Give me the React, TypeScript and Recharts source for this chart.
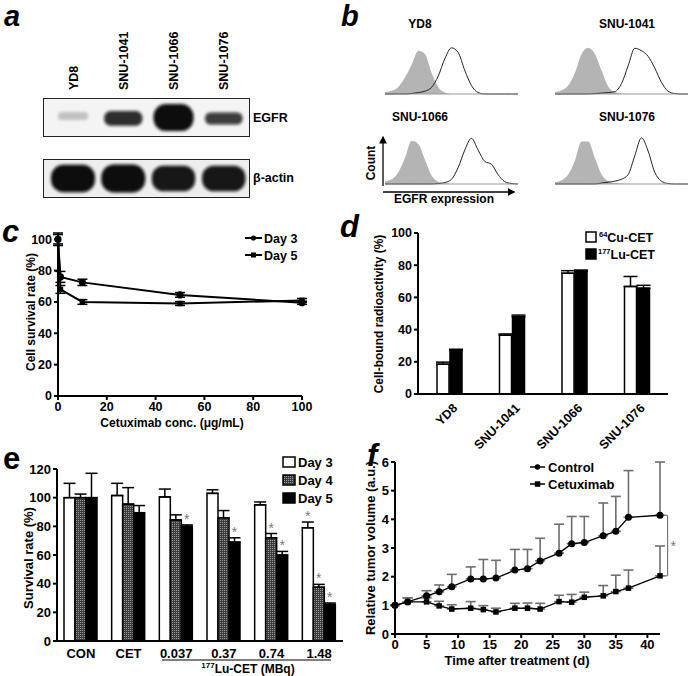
import React from 'react';
import {
  BarChart,
  Bar,
  LineChart,
  Line,
  ComposedChart,
  Area,
  XAxis,
  YAxis,
  ErrorBar,
  Legend,
  ReferenceLine,
} from 'recharts';

const FONT = 'Arial, "Liberation Sans", Helvetica, sans-serif';

// a: western blot, band extent (fraction of strip height) and darkness per lane
const lanes = ['YD8', 'SNU-1041', 'SNU-1066', 'SNU-1076'];
const egfrBand = [[0.42, 0.63], [0.27, 0.66], [0.13, 0.84], [0.3, 0.62]];
const egfrDensity = [0.12, 0.85, 1, 0.78];
const actinBand = [[0.15, 0.85], [0.14, 0.86], [0.17, 0.83], [0.17, 0.83]];
const actinDensity = [1, 1, 0.95, 0.95];

// b: flow cytometry histograms (position along log axis in %, relative count)
const fluorPos = [0, 5, 10, 15, 20, 25, 30, 35, 40, 45, 50, 55, 60, 65, 70, 75, 80, 85, 90, 95, 100];
const isoYD8 = [0.04, 0.07, 0.15, 0.35, 0.62, 0.92, 0.85, 0.45, 0.15, 0.03, 0, 0, 0, 0, 0, 0, 0, 0, 0, 0, 0];
const egfrYD8 = [0, 0, 0, 0, 0.01, 0.03, 0.06, 0.14, 0.38, 0.75, 0.98, 0.88, 0.5, 0.18, 0.03, 0, 0, 0, 0, 0, 0];
const iso1041 = [0.04, 0.08, 0.18, 0.45, 0.85, 0.98, 0.85, 0.5, 0.16, 0.04, 0.01, 0, 0, 0, 0, 0, 0, 0, 0, 0, 0];
const egfr1041 = [0, 0, 0, 0, 0, 0, 0.01, 0.02, 0.03, 0.05, 0.22, 0.6, 0.97, 0.92, 0.8, 0.55, 0.25, 0.06, 0.01, 0, 0];
const iso1066 = [0.06, 0.1, 0.25, 0.55, 0.92, 0.85, 0.52, 0.18, 0.05, 0.01, 0, 0, 0, 0, 0, 0, 0, 0, 0, 0, 0];
const egfr1066 = [0, 0, 0, 0, 0, 0, 0, 0, 0.01, 0.03, 0.1, 0.35, 0.72, 0.97, 0.72, 0.48, 0.42, 0.2, 0.05, 0.01, 0];
const iso1076 = [0.04, 0.08, 0.2, 0.5, 0.9, 0.9, 0.55, 0.2, 0.06, 0.02, 0.01, 0, 0, 0, 0, 0, 0, 0, 0, 0, 0];
const egfr1076 = [0, 0, 0, 0, 0, 0, 0, 0.02, 0.04, 0.06, 0.1, 0.2, 0.6, 0.98, 0.7, 0.25, 0.06, 0.01, 0, 0, 0];
const countTicks = [0, 0.125, 0.25, 0.375, 0.5, 0.625, 0.75, 0.875, 1];

// c: cell survival vs cetuximab
const cetConc = [0, 1, 10, 50, 100];
const day3Survival = [100, 76, 72.5, 64.5, 59.5];
const day3Err = [4, 3.5, 2, 1.5, 1];
const day5Survival = [100, 68, 60, 59, 61];
const day5Err = [3, 2.5, 1.5, 1.2, 1.2];
const pctTicks = [0, 20, 40, 60, 80, 100];

// d: cell-bound radioactivity
const cellLines = ['YD8', 'SNU-1041', 'SNU-1066', 'SNU-1076'];
const cuBound = [18.5, 36.5, 75, 66.8];
const cuErr = [1.3, 0.8, 1.6, 6.2];
const luBound = [27.3, 48, 76.4, 65.7];
const luErr = [0.5, 1, 0.6, 1.8];

// e: survival after 177Lu-CET
const treatments = ['CON', 'CET', '0.037', '0.37', '0.74', '1.48'];
const day3Rate = [100, 101.5, 100.5, 103, 95, 79];
const day3RateErr = [10, 8.5, 5.5, 2.5, 2, 4];
const day4Rate = [100, 95.5, 84.5, 86, 72, 37.5];
const day4RateErr = [2.5, 11.5, 3.5, 5, 3, 2];
const day5Rate = [100, 89.5, 80, 69, 60, 25.5];
const day5RateErr = [17, 5, 1, 3, 2.5, 1];
const day3Sig = [false, false, false, false, false, true];
const day4Sig = [false, false, false, false, true, true];
const day5Sig = [false, false, true, true, true, true];
const rateTicks = [0, 20, 40, 60, 80, 100, 120];

// f: relative tumor volume
const days = [0, 2, 5, 7, 9, 12, 14, 16, 19, 21, 23, 26, 28, 30, 33, 35, 37, 42];
const controlVol = [1, 1.12, 1.33, 1.47, 1.65, 1.92, 1.92, 1.95, 2.23, 2.28, 2.55, 2.82, 3.15, 3.19, 3.43, 3.58, 4.07, 4.14];
const controlSd = [0, 0.14, 0.18, 0.24, 0.43, 0.42, 0.68, 0.62, 0.72, 0.67, 0.79, 1.01, 0.95, 0.91, 1.14, 1.22, 1.63, 1.86];
const cetuxVol = [1, 1.12, 1.12, 0.98, 0.87, 0.9, 0.85, 0.77, 0.9, 0.9, 0.87, 1.13, 1.11, 1.28, 1.33, 1.48, 1.6, 2.03];
const cetuxSd = [0, 0.14, 0.14, 0.16, 0.15, 0.23, 0.14, 0.13, 0.17, 0.18, 0.2, 0.22, 0.27, 0.18, 0.36, 0.57, 0.63, 1.04];
const dayTicks = [0, 5, 10, 15, 20, 25, 30, 35, 40];
const volTicks = [0, 1, 2, 3, 4, 5, 6];

const tickStyle = { fill: '#000', fontSize: 12.5, fontWeight: 700, fontFamily: FONT };
const axisLine = { stroke: '#000', strokeWidth: 2 };
const tickLine = { stroke: '#000', strokeWidth: 2 };

const T = (props: any) => <text fontFamily={FONT} fontWeight={700} fill="#000" {...props} />;

const squareDot = (size: number) => (p: any) => {
  const { cx, cy, index } = p;
  if (cx == null || cy == null) return <g key={`s${index}`} />;
  return <rect key={`s${index}`} x={cx - size / 2} y={cy - size / 2} width={size} height={size} fill="#000" />;
};

const Pos = ({ left, top, children }: any) => (
  <div style={{ position: 'absolute', left, top }}>{children}</div>
);

// ---------- a ----------
const BandShape = (p: any) => {
  const { x, y, width, height, payload, filterId } = p;
  if (!height) return null;
  const d = payload.density;
  const w = width * (0.72 + 0.28 * d);
  const cx = x + width / 2;
  return (
    <rect
      x={cx - w / 2}
      y={y}
      width={w}
      height={height}
      rx={Math.min(w, height) / 2.2}
      fill="#0c0c0c"
      fillOpacity={0.1 + 0.9 * d}
      filter={`url(#${filterId})`}
    />
  );
};

const LaneTick = (p: any) => {
  const { x, y, payload } = p;
  return (
    <text
      x={x}
      y={y}
      dy={4.5}
      transform={`rotate(-90 ${x} ${y})`}
      textAnchor="start"
      fontFamily={FONT}
      fontWeight={700}
      fontSize={12.5}
      fill="#000"
    >
      {payload.value}
    </text>
  );
};

const BlotPanel = () => {
  const egfrRows = lanes.map((lane, i) => ({ lane, band: egfrBand[i], density: egfrDensity[i] }));
  const actinRows = lanes.map((lane, i) => ({ lane, band: actinBand[i], density: actinDensity[i] }));
  return (
    <>
      <div style={{ position: 'absolute', left: 43, top: 98, width: 207, height: 39, boxSizing: 'border-box', border: '1px solid #222', background: '#f4f4f4' }} />
      <div style={{ position: 'absolute', left: 43, top: 159, width: 207, height: 39, boxSizing: 'border-box', border: '1px solid #222', background: '#eeeeee' }} />
      <Pos left={43} top={25}>
        <BarChart width={207} height={112} data={egfrRows} margin={{ top: 0, right: 1, bottom: 1, left: 5 }} barCategoryGap="10%">
          <defs>
            <filter id="blurEgfr" x="-30%" y="-60%" width="160%" height="220%">
              <feGaussianBlur stdDeviation="1.8" />
            </filter>
          </defs>
          <XAxis dataKey="lane" orientation="top" height={73} axisLine={false} tickLine={false} interval={0} tick={<LaneTick />} />
          <YAxis hide domain={[0, 1]} />
          <Bar dataKey="band" isAnimationActive={false} shape={(p: any) => <BandShape {...p} filterId="blurEgfr" />} />
        </BarChart>
      </Pos>
      <Pos left={43} top={159}>
        <BarChart width={207} height={39} data={actinRows} margin={{ top: 0, right: 1, bottom: 0, left: 5 }} barCategoryGap="6%">
          <defs>
            <filter id="blurActin" x="-30%" y="-60%" width="160%" height="220%">
              <feGaussianBlur stdDeviation="1.8" />
            </filter>
          </defs>
          <XAxis dataKey="lane" hide />
          <YAxis hide domain={[0, 1]} />
          <Bar dataKey="band" isAnimationActive={false} shape={(p: any) => <BandShape {...p} filterId="blurActin" />} />
        </BarChart>
      </Pos>
    </>
  );
};

// ---------- b ----------
const flowPanels = [
  { title: 'YD8', iso: isoYD8, egfr: egfrYD8, left: 382, top: 43 },
  { title: 'SNU-1041', iso: iso1041, egfr: egfr1041, left: 552, top: 43 },
  { title: 'SNU-1066', iso: iso1066, egfr: egfr1066, left: 382, top: 133 },
  { title: 'SNU-1076', iso: iso1076, egfr: egfr1076, left: 552, top: 133 },
];

const FlowPanel = () => (
  <>
    {flowPanels.map((f) => {
      const rows = fluorPos.map((pos, i) => ({ pos, iso: f.iso[i], egfr: f.egfr[i] }));
      return (
        <Pos key={f.title} left={f.left} top={f.top}>
          <ComposedChart width={138} height={55} data={rows} margin={{ top: 2, right: 2, bottom: 0, left: 3 }}>
            <XAxis
              dataKey="pos"
              type="number"
              domain={[0, 100]}
              ticks={[0, 25, 50, 75, 100]}
              height={4}
              tick={false}
              tickSize={2}
              axisLine={{ stroke: '#999' }}
              tickLine={{ stroke: '#999' }}
            />
            <YAxis
              domain={[0, 1.04]}
              ticks={countTicks}
              width={0}
              tick={false}
              tickSize={2}
              axisLine={{ stroke: '#999' }}
              tickLine={{ stroke: '#999' }}
            />
            <Area dataKey="iso" type="monotone" fill="#b4b4b4" fillOpacity={1} stroke="none" isAnimationActive={false} />
            <Line dataKey="egfr" type="monotone" stroke="#222" strokeWidth={1} dot={false} isAnimationActive={false} />
          </ComposedChart>
        </Pos>
      );
    })}
  </>
);

// ---------- c ----------
const DoseLegend = () => (
  <svg width={70} height={36}>
    <line x1={2} y1={8} x2={19} y2={8} stroke="#000" strokeWidth={2} />
    <circle cx={10.5} cy={8} r={2.6} fill="#000" />
    <T x={21} y={13} fontSize={12.5}>Day 3</T>
    <line x1={2} y1={25} x2={19} y2={25} stroke="#000" strokeWidth={2} />
    <rect x={8} y={22.5} width={5} height={5} fill="#000" />
    <T x={21} y={30} fontSize={12.5}>Day 5</T>
  </svg>
);

const DoseChart = () => {
  const rows = cetConc.map((conc, i) => ({
    conc,
    d3: day3Survival[i],
    e3: day3Err[i],
    d5: day5Survival[i],
    e5: day5Err[i],
  }));
  return (
    <Pos left={0} top={200}>
      <LineChart width={330} height={230} data={rows} margin={{ top: 33, right: 28, bottom: 4, left: 13 }}>
        <XAxis dataKey="conc" type="number" domain={[0, 100]} ticks={pctTicks} height={30} tick={tickStyle} axisLine={axisLine} tickLine={tickLine} tickSize={4} />
        <YAxis type="number" domain={[0, 100]} ticks={pctTicks} width={45} tick={tickStyle} axisLine={axisLine} tickLine={tickLine} tickSize={4} />
        <Line dataKey="d3" stroke="#000" strokeWidth={2} dot={{ r: 2.6, fill: '#000', stroke: '#000' }} isAnimationActive={false}>
          <ErrorBar dataKey="e3" width={5} stroke="#000" strokeWidth={1.5} />
        </Line>
        <Line dataKey="d5" stroke="#000" strokeWidth={2} dot={squareDot(5.5)} isAnimationActive={false}>
          <ErrorBar dataKey="e5" width={5} stroke="#000" strokeWidth={1.5} />
        </Line>
        <Legend
          layout="vertical"
          align="center"
          verticalAlign="middle"
          wrapperStyle={{ left: 243, top: 30, width: 70, height: 36 }}
          content={() => <DoseLegend />}
        />
      </LineChart>
    </Pos>
  );
};

// ---------- d ----------
const CellLineTick = (p: any) => {
  const { x, y, payload } = p;
  const ax = x + 6;
  const ay = y + 4;
  return (
    <text
      x={ax}
      y={ay}
      dy={4}
      transform={`rotate(-45 ${ax} ${ay})`}
      textAnchor="end"
      fontFamily={FONT}
      fontWeight={700}
      fontSize={12.5}
      fill="#000"
    >
      {payload.value}
    </text>
  );
};

const BindingLegend = () => (
  <svg width={105} height={36}>
    <rect x={3} y={4} width={10} height={10} fill="#fff" stroke="#000" strokeWidth={1.5} />
    <T x={16} y={14} fontSize={12.5}>
      <tspan fontSize={7.5} dy={-5}>64</tspan>
      <tspan dy={5}>Cu-CET</tspan>
    </T>
    <rect x={3} y={21} width={10} height={10} fill="#000" stroke="#000" strokeWidth={1.5} />
    <T x={15} y={31} fontSize={12.5}>
      <tspan fontSize={7.5} dy={-5}>177</tspan>
      <tspan dy={5}>Lu-CET</tspan>
    </T>
  </svg>
);

const BindingChart = () => {
  const rows = cellLines.map((line, i) => ({
    line,
    cu: cuBound[i],
    cuE: [0, cuErr[i]],
    lu: luBound[i],
    luE: [0, luErr[i]],
  }));
  return (
    <Pos left={340} top={200}>
      <BarChart width={351} height={262} data={rows} margin={{ top: 33, right: 23, bottom: 6, left: 38 }} barSize={12} barGap={1}>
        <XAxis dataKey="line" height={62} interval={0} tick={<CellLineTick />} axisLine={axisLine} tickLine={false} />
        <YAxis type="number" domain={[0, 100]} ticks={pctTicks} width={40} tick={tickStyle} axisLine={axisLine} tickLine={tickLine} tickSize={4} />
        <Bar dataKey="cu" fill="#fff" stroke="#000" strokeWidth={1.5} isAnimationActive={false}>
          <ErrorBar dataKey="cuE" width={7} stroke="#000" strokeWidth={1.5} />
        </Bar>
        <Bar dataKey="lu" fill="#000" stroke="#000" strokeWidth={1.5} isAnimationActive={false}>
          <ErrorBar dataKey="luE" width={7} stroke="#000" strokeWidth={1.5} />
        </Bar>
        <Legend
          layout="vertical"
          align="center"
          verticalAlign="middle"
          wrapperStyle={{ left: 243, top: 28, width: 105, height: 36 }}
          content={() => <BindingLegend />}
        />
      </BarChart>
    </Pos>
  );
};

// ---------- e ----------
// bar with an optional significance star above its error cap
const SurvivalBar = (p: any) => {
  const { x, y, width, height, fill, payload, valKey, errKey, sigKey } = p;
  if (x == null || !height) return null;
  const val = payload[valKey];
  const err = payload[errKey][1];
  const capY = y - (err * height) / val;
  return (
    <g>
      <rect x={x} y={y} width={width} height={height} fill={fill} stroke="#000" strokeWidth={1.5} />
      {payload[sigKey] ? (
        <text x={x + width / 2} y={capY - 1} textAnchor="middle" fill="#7a7a7a" fontSize={14} fontFamily={FONT}>
          *
        </text>
      ) : null}
    </g>
  );
};

const SurvivalLegend = () => (
  <svg width={75} height={55}>
    <rect x={3} y={5} width={12} height={10} fill="#fff" stroke="#000" strokeWidth={1.5} />
    <T x={18} y={15} fontSize={13}>Day 3</T>
    <rect x={3} y={23} width={12} height={10} fill="url(#hatchDay4)" stroke="#000" strokeWidth={1.5} />
    <T x={18} y={33} fontSize={13}>Day 4</T>
    <rect x={3} y={41} width={12} height={10} fill="#000" stroke="#000" strokeWidth={1.5} />
    <T x={18} y={51} fontSize={13}>Day 5</T>
  </svg>
);

const SurvivalChart = () => {
  const rows = treatments.map((t, i) => ({
    t,
    d3: day3Rate[i],
    e3: [0, day3RateErr[i]],
    s3: day3Sig[i],
    d4: day4Rate[i],
    e4: [0, day4RateErr[i]],
    s4: day4Sig[i],
    d5: day5Rate[i],
    e5: [0, day5RateErr[i]],
    s5: day5Sig[i],
  }));
  const xTick = { ...tickStyle, fontSize: 13 };
  return (
    <Pos left={0} top={440}>
      <BarChart width={355} height={236} data={rows} margin={{ top: 29, right: 12, bottom: 13, left: 17 }} barSize={11} barGap={0}>
        <defs>
          <pattern id="hatchDay4" width="2" height="2" patternUnits="userSpaceOnUse">
            <rect width="2" height="2" fill="#3c3c3c" />
            <rect width="1" height="1" fill="#9a9a9a" />
          </pattern>
        </defs>
        <XAxis dataKey="t" height={22} interval={0} tick={xTick} axisLine={axisLine} tickLine={false} tickMargin={2} />
        <YAxis type="number" domain={[0, 120]} ticks={rateTicks} width={40} tick={xTick} axisLine={axisLine} tickLine={tickLine} tickSize={4} />
        <Bar dataKey="d3" fill="#fff" isAnimationActive={false} shape={(p: any) => <SurvivalBar {...p} valKey="d3" errKey="e3" sigKey="s3" />}>
          <ErrorBar dataKey="e3" width={6} stroke="#000" strokeWidth={1.5} />
        </Bar>
        <Bar dataKey="d4" fill="url(#hatchDay4)" isAnimationActive={false} shape={(p: any) => <SurvivalBar {...p} valKey="d4" errKey="e4" sigKey="s4" />}>
          <ErrorBar dataKey="e4" width={6} stroke="#000" strokeWidth={1.5} />
        </Bar>
        <Bar dataKey="d5" fill="#000" isAnimationActive={false} shape={(p: any) => <SurvivalBar {...p} valKey="d5" errKey="e5" sigKey="s5" />}>
          <ErrorBar dataKey="e5" width={6} stroke="#000" strokeWidth={1.5} />
        </Bar>
        <Legend
          layout="vertical"
          align="center"
          verticalAlign="middle"
          wrapperStyle={{ left: 280, top: 12, width: 75, height: 55 }}
          content={() => <SurvivalLegend />}
        />
      </BarChart>
    </Pos>
  );
};

// ---------- f ----------
const TumorLegend = () => (
  <svg width={110} height={36}>
    <line x1={3} y1={9} x2={18} y2={9} stroke="#000" strokeWidth={1.5} />
    <circle cx={10.5} cy={9} r={2.8} fill="#000" />
    <T x={21} y={14} fontSize={13}>Control</T>
    <line x1={3} y1={26} x2={18} y2={26} stroke="#000" strokeWidth={1.5} />
    <rect x={7.8} y={23.3} width={5.5} height={5.5} fill="#000" />
    <T x={21} y={31} fontSize={13}>Cetuximab</T>
  </svg>
);

const TumorChart = () => {
  const rows = days.map((day, i) => ({
    day,
    ctrl: controlVol[i],
    ctrlE: [0, controlSd[i]],
    cet: cetuxVol[i],
    cetE: [0, cetuxSd[i]],
  }));
  const last = days.length - 1;
  const bx = 43.2;
  const bx0 = 42.4;
  const tick = { ...tickStyle, fontSize: 13 };
  return (
    <Pos left={355} top={440}>
      <LineChart width={336} height={236} data={rows} margin={{ top: 22, right: 31, bottom: 20, left: 15 }}>
        <XAxis dataKey="day" type="number" domain={[0, 42]} ticks={dayTicks} height={22} tick={tick} axisLine={axisLine} tickLine={tickLine} tickSize={4} />
        <YAxis type="number" domain={[0, 6]} ticks={volTicks} width={25} tick={tick} axisLine={axisLine} tickLine={tickLine} tickSize={4} />
        <Line dataKey="ctrl" stroke="#000" strokeWidth={1.4} dot={{ r: 2.8, fill: '#000', stroke: '#000' }} isAnimationActive={false}>
          <ErrorBar dataKey="ctrlE" width={5} stroke="#6e6e6e" strokeWidth={1.6} />
        </Line>
        <Line dataKey="cet" stroke="#000" strokeWidth={1.4} dot={squareDot(5.5)} isAnimationActive={false}>
          <ErrorBar dataKey="cetE" width={5} stroke="#6e6e6e" strokeWidth={1.6} />
        </Line>
        <ReferenceLine
          segment={[{ x: bx, y: controlVol[last] }, { x: bx, y: cetuxVol[last] }]}
          stroke="#777"
          strokeWidth={1.2}
          ifOverflow="visible"
          label={{ value: '*', position: 'right', fill: '#777', fontSize: 14, fontFamily: FONT, offset: 3 }}
        />
        <ReferenceLine segment={[{ x: bx0, y: controlVol[last] }, { x: bx, y: controlVol[last] }]} stroke="#777" strokeWidth={1.2} ifOverflow="visible" />
        <ReferenceLine segment={[{ x: bx0, y: cetuxVol[last] }, { x: bx, y: cetuxVol[last] }]} stroke="#777" strokeWidth={1.2} ifOverflow="visible" />
        <Legend
          layout="vertical"
          align="center"
          verticalAlign="middle"
          wrapperStyle={{ left: 172, top: 18, width: 110, height: 36 }}
          content={() => <TumorLegend />}
        />
      </LineChart>
    </Pos>
  );
};

// ---------- free text ----------
const Labels = () => (
  <svg width={691} height={676} style={{ position: 'absolute', left: 0, top: 0, pointerEvents: 'none' }}>
    <defs>
      <marker id="arrowHead" markerWidth="6" markerHeight="6" refX="5" refY="3" orient="auto">
        <path d="M0,0 L6,3 L0,6 Z" fill="#000" />
      </marker>
    </defs>
    <T x={4} y={26} fontSize={29} fontStyle="italic">a</T>
    <T x={341} y={26} fontSize={29} fontStyle="italic">b</T>
    <T x={2} y={242} fontSize={31} fontStyle="italic">c</T>
    <T x={340} y={237} fontSize={31} fontStyle="italic">d</T>
    <T x={3} y={469} fontSize={31}>e</T>
    <T x={367} y={466} fontSize={31} fontStyle="italic">f</T>

    <T x={253} y={122} fontSize={12.5}>EGFR</T>
    <T x={253} y={182} fontSize={12.5}>β-actin</T>

    <T x={420} y={28} fontSize={12} textAnchor="middle">YD8</T>
    <T x={627} y={28} fontSize={12} textAnchor="middle">SNU-1041</T>
    <T x={420} y={121} fontSize={12} textAnchor="middle">SNU-1066</T>
    <T x={627} y={121} fontSize={12} textAnchor="middle">SNU-1076</T>
    <line x1={383} y1={186} x2={383} y2={137} stroke="#000" strokeWidth={1.3} markerEnd="url(#arrowHead)" />
    <line x1={383} y1={192} x2={514} y2={192} stroke="#000" strokeWidth={1.3} markerEnd="url(#arrowHead)" />
    <T x={375} y={163} fontSize={12} textAnchor="middle" transform="rotate(-90 375 163)">Count</T>
    <T x={444} y={203} fontSize={12} textAnchor="middle">EGFR expression</T>

    <T x={35} y={312} fontSize={12} textAnchor="middle" transform="rotate(-90 35 312)">Cell survival rate (%)</T>
    <T x={172} y={427} fontSize={12} textAnchor="middle">Cetuximab conc. (μg/mL)</T>

    <T x={383} y={314} fontSize={12} textAnchor="middle" transform="rotate(-90 383 314)">Cell-bound radioactivity (%)</T>

    <T x={33} y={558} fontSize={13} textAnchor="middle" transform="rotate(-90 33 558)">Survival rate (%)</T>
    <line x1={162} y1={660} x2={331} y2={660} stroke="#000" strokeWidth={1.2} />
    <T x={248} y={672.5} fontSize={12} textAnchor="middle">
      <tspan fontSize={8} dy={-5}>177</tspan>
      <tspan dy={5}>Lu-CET (MBq)</tspan>
    </T>

    <T x={375} y={548} fontSize={13} textAnchor="middle" transform="rotate(-90 375 548)">Relative tumor volume  (a.u.)</T>
    <T x={517} y={665} fontSize={13} textAnchor="middle">Time after treatment (d)</T>
  </svg>
);

export default function App() {
  return (
    <div style={{ position: 'absolute', left: 0, top: 0, width: 691, height: 676, background: '#fff', fontFamily: FONT, overflow: 'hidden' }}>
      <BlotPanel />
      <FlowPanel />
      <DoseChart />
      <BindingChart />
      <SurvivalChart />
      <TumorChart />
      <Labels />
    </div>
  );
}
